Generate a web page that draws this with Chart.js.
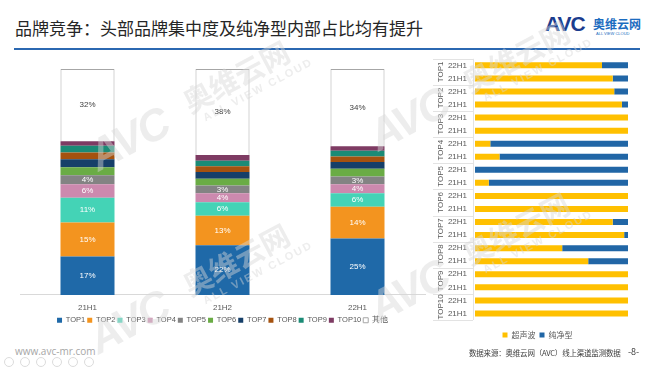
<!DOCTYPE html>
<html>
<head>
<meta charset="utf-8">
<script src="https://cdn.jsdelivr.net/npm/chart.js@4.4.0/dist/chart.umd.min.js"></script>
<style>
body{margin:0;width:660px;height:372px;overflow:hidden;background:#fff;position:relative;font-family:"Noto Sans CJK SC","Noto Sans",sans-serif}
.abs{position:absolute}
#title{left:15px;top:15px;font-size:17px;color:#262626;white-space:nowrap;letter-spacing:0}
#rule{left:14px;top:48px;width:626px;height:2px;background:#2b68b1}
#logo{left:545px;top:12px;white-space:nowrap}
#logo .avc{font-family:"Liberation Sans",Arial,sans-serif;font-weight:bold;font-size:21px;color:#1b3c8e;letter-spacing:-1px}
#logo .cn{position:absolute;left:48px;top:3px;font-size:12px;font-weight:bold;color:#1c6cc0;letter-spacing:0}
#logo .en{position:absolute;left:51px;top:19px;font-size:4px;color:#1c6cc0;font-family:"Liberation Sans",sans-serif}
#site{left:15px;top:344px;font-size:10px;color:#a6a6a6;font-family:"Open Sans","Liberation Sans",sans-serif}
#src{left:469px;top:347px;font-size:7.5px;color:#404040;letter-spacing:-0.2px}
#page{left:628px;top:345px;font-size:9px;color:#404040}
.ico{top:357px;width:8px;height:8px;border:1px solid #dcdcdc;border-radius:50%}
#left{left:0;top:60px;width:445px;height:276px}
#right{left:420px;top:46px;width:226px;height:300px}
.wm{width:240px;height:60px;margin:-30px 0 0 -120px;transform:rotate(-28deg);white-space:nowrap;color:rgba(215,215,215,0.45);pointer-events:none;z-index:5}
.wm .a{position:absolute;left:0;top:4px;font:bold italic 44px "Liberation Sans",Arial,sans-serif;letter-spacing:-2px}
.wm .b{position:absolute;left:108px;top:2px;font-size:29px;font-weight:bold;letter-spacing:0}
.wm .c{position:absolute;left:118px;top:40px;font:bold 11px "Liberation Sans",Arial,sans-serif;letter-spacing:2px}
</style>
</head>
<body>
<div id="title" class="abs">品牌竞争：头部品牌集中度及纯净型内部占比均有提升</div>
<div id="rule" class="abs"></div>
<div id="logo" class="abs"><span class="avc">AVC</span><span class="cn">奥维云网</span><span class="en">ALL VIEW CLOUD</span></div>

<div class="abs" id="left"><canvas id="shareChart"></canvas></div>
<div class="abs" id="right"><canvas id="typeChart"></canvas></div>

<div class="abs wm" style="left:198px;top:103px"><span class="a">AVC</span><span class="b">奥维云网</span><span class="c">ALL VIEW CLOUD</span></div>
<div class="abs wm" style="left:198px;top:286px"><span class="a">AVC</span><span class="b">奥维云网</span><span class="c">ALL VIEW CLOUD</span></div>
<div class="abs wm" style="left:478px;top:83px"><span class="a">AVC</span><span class="b">奥维云网</span><span class="c">ALL VIEW CLOUD</span></div>
<div class="abs wm" style="left:478px;top:255px"><span class="a">AVC</span><span class="b">奥维云网</span><span class="c">ALL VIEW CLOUD</span></div>

<div id="site" class="abs">www.avc-mr.com</div>
<div id="src" class="abs">数据来源：奥维云网（AVC）线上渠道监测数据</div>
<div id="page" class="abs">-8-</div>
<div class="abs ico" style="left:4px"></div>
<div class="abs ico" style="left:20px"></div>
<div class="abs ico" style="left:36px"></div>
<div class="abs ico" style="left:52px"></div>
<div class="abs ico" style="left:68px"></div>
<div class="abs ico" style="left:84px"></div>

<script>
// left: brand share by half-year (%)
const periods = ['21H1', '21H2', '22H1'];
const brands = ['TOP1', 'TOP2', 'TOP3', 'TOP4', 'TOP5', 'TOP6', 'TOP7', 'TOP8', 'TOP9', 'TOP10', '其他'];
const share21H1 = [17, 15, 11, 6, 4, 3.5, 3.5, 3, 3, 2, 32];
const share21H2 = [22, 13, 6, 4, 3.4, 3, 3, 2.5, 2.5, 2.5, 38.1];
const share22H1 = [25, 14, 6, 4, 3.4, 3.4, 3, 2.5, 2.5, 2, 34.2];
const labelledBrands = ['TOP1', 'TOP2', 'TOP3', 'TOP4', 'TOP5', '其他'];

// right: ultrasonic vs pure type inside each top brand (%)
const rankGroups = ['TOP1', 'TOP2', 'TOP3', 'TOP4', 'TOP5', 'TOP6', 'TOP7', 'TOP8', 'TOP9', 'TOP10'];
const halfYears = ['22H1', '21H1'];
const ultrasonic = [83, 90, 91, 96, 100, 100, 10, 16, 0, 9, 100, 100, 90, 97.5, 57, 74, 100, 100, 100, 100];
const pureType = [17, 10, 9, 4, 0, 0, 90, 84, 100, 91, 0, 0, 10, 2.5, 43, 26, 0, 0, 0, 0];

const brandColors = ['#1f69a8', '#f3941f', '#44d3b6', '#cc89ae', '#838383', '#6aac45', '#163f69', '#a5520f', '#1b8b76', '#7e3b63', '#ffffff'];
const tickFont = {family: '"Liberation Sans", Arial, sans-serif', size: 8};

const byPeriod = [share21H1, share21H2, share22H1];

// nudge the legend row up/down without touching the plot
const legendShift = {
  id: 'legendShift',
  afterLayout(chart, args, opts) {
    chart.legend.top += opts.dy;
    chart.legend.bottom += opts.dy;
  }
};

const segLabels = {
  id: 'segLabels',
  afterDatasetsDraw(chart) {
    const ctx = chart.ctx;
    ctx.save();
    ctx.font = '8px "Liberation Sans", Arial, sans-serif';
    ctx.textAlign = 'center';
    ctx.textBaseline = 'middle';
    chart.data.datasets.forEach((ds, i) => {
      if (!labelledBrands.includes(ds.label)) return;
      chart.getDatasetMeta(i).data.forEach((bar, j) => {
        ctx.fillStyle = ds.label === '其他' ? '#404040' : '#ffffff';
        ctx.fillText(Math.round(ds.data[j]) + '%', bar.x, (bar.y + bar.base) / 2);
      });
    });
    ctx.restore();
  }
};

new Chart(document.getElementById('shareChart'), {
  type: 'bar',
  data: {
    labels: periods,
    datasets: brands.map((b, i) => ({
      label: b,
      data: byPeriod.map(p => p[i]),
      backgroundColor: brandColors[i],
      borderColor: i === 10 ? '#a6a6a6' : brandColors[i],
      borderWidth: i === 10 ? 1 : 0,
      barPercentage: 0.4,
      categoryPercentage: 1
    }))
  },
  options: {
    responsive: true,
    maintainAspectRatio: false,
    animation: false,
    layout: {padding: {left: 20, right: 20, top: 9, bottom: 4}},
    plugins: {
      legend: {
        position: 'bottom',
        labels: {boxWidth: 5, boxHeight: 5, padding: 2, color: '#595959', font: {family: tickFont.family, size: 7.5}}
      },
      legendShift: {dy: 2},
      tooltip: {enabled: false}
    },
    scales: {
      x: {
        stacked: true,
        grid: {display: false},
        border: {color: '#d9d9d9'},
        ticks: {color: '#595959', font: tickFont, padding: 0}
      },
      y: {stacked: true, display: false, min: 0, max: 100}
    }
  },
  plugins: [segLabels, legendShift]
});

const rowLabels = [];
rankGroups.forEach(() => halfYears.forEach(h => rowLabels.push(h)));

const groupLabels = {
  id: 'groupLabels',
  afterDraw(chart) {
    const ctx = chart.ctx, y = chart.scales.y, area = chart.chartArea;
    const lineX0 = area.left - 42, lineX1 = area.left - 2;
    ctx.save();
    ctx.strokeStyle = '#e3e3e3';
    ctx.lineWidth = 1;
    ctx.beginPath();
    ctx.moveTo(lineX1 + 0.5, area.top);
    ctx.lineTo(lineX1 + 0.5, area.bottom);
    rankGroups.forEach((g, k) => {
      const top = k === 0 ? area.top : (y.getPixelForValue(2 * k - 1) + y.getPixelForValue(2 * k)) / 2;
      ctx.moveTo(lineX0, Math.round(top) + 0.5);
      ctx.lineTo(lineX1, Math.round(top) + 0.5);
    });
    ctx.moveTo(lineX0, Math.round(area.bottom) + 0.5);
    ctx.lineTo(lineX1, Math.round(area.bottom) + 0.5);
    ctx.stroke();
    ctx.fillStyle = '#595959';
    ctx.font = '8px "Liberation Sans", Arial, sans-serif';
    ctx.textAlign = 'center';
    ctx.textBaseline = 'middle';
    rankGroups.forEach((g, k) => {
      const cy = (y.getPixelForValue(2 * k) + y.getPixelForValue(2 * k + 1)) / 2;
      ctx.save();
      ctx.translate(area.left - 34, cy);
      ctx.rotate(-Math.PI / 2);
      ctx.fillText(g, 0, 0);
      ctx.restore();
    });
    ctx.restore();
  }
};

new Chart(document.getElementById('typeChart'), {
  type: 'bar',
  data: {
    labels: rowLabels,
    datasets: [
      {label: '超声波', data: ultrasonic, backgroundColor: '#ffc000', barPercentage: 0.46, categoryPercentage: 1},
      {label: '纯净型', data: pureType, backgroundColor: '#2166a6', barPercentage: 0.46, categoryPercentage: 1}
    ]
  },
  options: {
    indexAxis: 'y',
    responsive: true,
    maintainAspectRatio: false,
    animation: false,
    layout: {padding: {left: 27, right: 18, top: 2, bottom: 4}},
    plugins: {
      legend: {
        position: 'bottom',
        labels: {boxWidth: 5, boxHeight: 5, padding: 4, color: '#595959', font: {family: '"Noto Sans CJK SC", sans-serif', size: 8}}
      },
      legendShift: {dy: 7},
      tooltip: {enabled: false}
    },
    scales: {
      x: {stacked: true, display: false, min: 0, max: 100},
      y: {
        stacked: true,
        grid: {display: false, drawTicks: false},
        border: {display: false},
        ticks: {color: '#595959', font: tickFont, padding: 8, autoSkip: false},
        afterFit(scale) { scale.width = 28; }
      }
    }
  },
  plugins: [groupLabels, legendShift]
});
</script>
</body>
</html>
